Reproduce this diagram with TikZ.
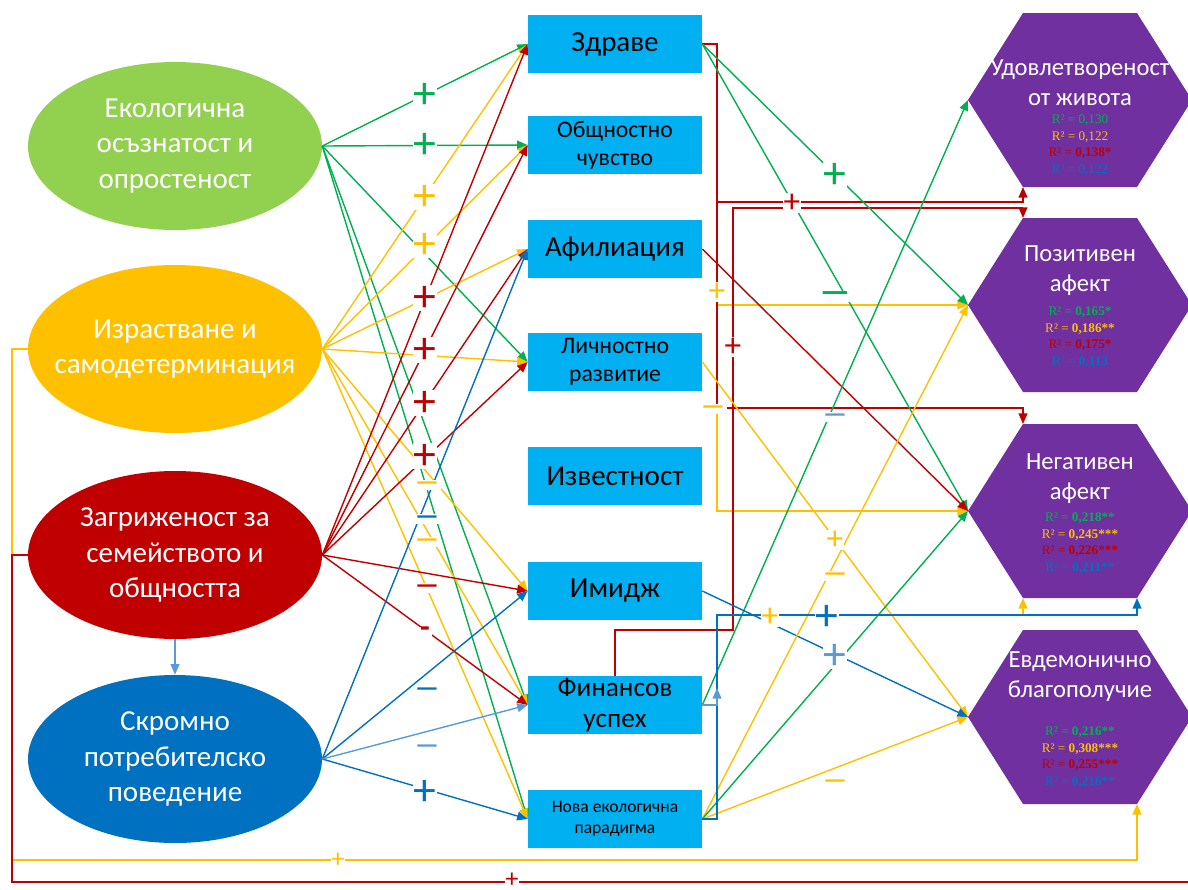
\documentclass[tikz,border=0pt]{standalone}
\usepackage{fontspec}
\setmainfont{Carlito}
\newfontfamily\rfont{Liberation Serif}
\usetikzlibrary{shapes.geometric,arrows.meta}
\definecolor{cgreen}{HTML}{00B050}
\definecolor{lgreen}{HTML}{92D050}
\definecolor{cyel}{HTML}{FFC000}
\definecolor{cred}{HTML}{C00000}
\definecolor{cblue}{HTML}{0070C0}
\definecolor{lblue}{HTML}{5B9BD5}
\definecolor{ccyan}{HTML}{00B0F0}
\definecolor{cpurp}{HTML}{7030A0}
\begin{document}
\begin{tikzpicture}[x=0.02cm,y=-0.02cm,
 ell/.style={ellipse, minimum width=5.88cm, minimum height=3.36cm, inner xsep=-12pt, inner ysep=0pt, align=center, text=white, font=\fontsize{16.5}{20}\selectfont},
 box/.style={rectangle, fill=ccyan, minimum width=3.48cm, minimum height=1.16cm, inner sep=0pt, align=center, font=\fontsize{16.5}{19}\selectfont},
 boxs/.style={box, font=\fontsize{13.5}{16}\selectfont},
 hextitle/.style={align=center, text=white, inner sep=0pt, font=\fontsize{14}{17}\selectfont},
 rsq/.style={align=center, inner sep=0pt, font=\rfont\fontsize{7.5}{9.4}\selectfont},
 con/.style={line width=0.8pt, -{Triangle[length=6pt,width=5pt]}},
 lnk/.style={line width=0.8pt},
 labp/.style={fill=white, inner xsep=0.5pt, inner ysep=0pt, text height=15pt, text depth=0pt, font=\fontsize{26}{26}\selectfont},
 labps/.style={fill=white, inner xsep=0.5pt, inner ysep=0pt, text height=11pt, text depth=0pt, font=\fontsize{19}{19}\selectfont},
 labd/.style={fill=white, inner xsep=1pt, inner ysep=0pt, text height=6pt, text depth=0pt, font=\bfseries\fontsize{15}{15}\selectfont},
 labb/.style={fill=white, inner xsep=0.5pt, inner ysep=0pt, text height=8pt, text depth=0pt, font=\fontsize{15}{15}\selectfont},
 ]
\useasboundingbox (0,0) rectangle (1188,890);

% ---- ellipses
\node[ell, fill=lgreen] (e1) at (175,146) {Екологична\\осъзнатост и\\опростеност};
\node[ell, fill=cyel] (e2) at (175,349) {Израстване и\\самодетерминация};
\node[ell, fill=cred] (e3) at (175,555) {Загриженост за\\семейството и\\общността};
\node[ell, fill=cblue] (e4) at (175,759) {Скромно\\потребителско\\поведение};

% ---- boxes
\node[box] (b1) at (615,44) {Здраве};
\node[boxs] (b2) at (615,145) {Общностно\\чувство};
\node[box] (b3) at (615,249) {Афилиация};
\node[boxs] (b4) at (615,362) {Личностно\\развитие};
\node[box] (b5) at (615,476) {Известност};
\node[box] (b6) at (615,591) {Имидж};
\node[box, font=\fontsize{15.5}{18}\selectfont] (b7) at (615,705) {Финансов\\успех};
\node[box, font=\fontsize{10}{12}\selectfont] (b8) at (615,819) {Нова екологична\\парадигма};

% ---- hexagons
\foreach \n/\cy in {1/100,2/305,3/511,4/717}{
  \fill[cpurp] (968,\cy) -- (1023,\cy-87) -- (1137,\cy-87) -- (1192,\cy) -- (1137,\cy+87) -- (1023,\cy+87) -- cycle;
  \coordinate (h\n w) at (968,\cy);
  \coordinate (h\n tl) at (1023,\cy-87);
  \coordinate (h\n bl) at (1023,\cy+87);
  \coordinate (h\n br) at (1137,\cy+87);
}
\node[hextitle] (t1) at (1080,83) {Удовлетвореност\\от живота};
\node[rsq] (r1) at (1080,145) {\textcolor{cgreen}{R² = 0,130}\\\textcolor{cyel}{R² = 0,122}\\\textcolor{cred}{R² = \textbf{0,138*}}\\\textcolor{cblue}{R² = 0,122}};
\node[hextitle] (t2) at (1080,271) {Позитивен\\афект};
\node[rsq] (r2) at (1080,337) {\textcolor{cgreen}{R² = \textbf{0,165*}}\\\textcolor{cyel}{R² = \textbf{0,186**}}\\\textcolor{cred}{R² = \textbf{0,175*}}\\\textcolor{cblue}{R² = \textbf{0,113}}};
\node[hextitle] (t3) at (1080,479) {Негативен\\афект};
\node[rsq] (r3) at (1080,543) {\textcolor{cgreen}{R² = \textbf{0,218**}}\\\textcolor{cyel}{R² = \textbf{0,245***}}\\\textcolor{cred}{R² = \textbf{0,226***}}\\\textcolor{cblue}{R² = \textbf{0,211**}}};
\node[hextitle] (t4) at (1080,677) {Евдемонично\\благополучие};
\node[rsq] (r4) at (1080,757) {\textcolor{cgreen}{R² = \textbf{0,216**}}\\\textcolor{cyel}{R² = \textbf{0,308***}}\\\textcolor{cred}{R² = \textbf{0,255***}}\\\textcolor{cblue}{R² = \textbf{0,218**}}};

% ---- left connectors
\foreach \b in {b1,b2,b4,b7,b8} \draw[con,cgreen] (e1.east) -- (\b.west);
\foreach \b in {b1,b2,b3,b4,b6,b7,b8} \draw[con,cyel] (e2.east) -- (\b.west);
\foreach \b in {b1,b2,b3,b4,b6,b7} \draw[con,cred] (e3.east) -- (\b.west);
\foreach \b in {b3,b6,b8} \draw[con,cblue] (e4.east) -- (\b.west);
\draw[con,lblue] (e4.east) -- (b7.west);
\draw[con,lblue] (e3.south) -- (e4.north);

% ---- bottom connectors
\draw[con,cyel] (e2.west) -| (12,860) -| (h4br);
\draw[lnk,cred] (e3.west) -| (12,882) -- (1188,882);

% ---- right connectors
\draw[con,cyel] (b1.east) -- (717,44) -- (717,305) -- (h2w);
\draw[con,cyel] (717,305) -- (717,511) -- (h3w);
\draw[con,cred] (b1.east) -- (717,44) -- (717,202) -| (h1bl);
\draw[con,cred] (717,202) -- (717,408) -| (h3tl);
\draw[con,cred] (b7.north) |- (733,630) -- (733,208) -| (h2tl);
\draw[con,cgreen] (b1.east) -- (h2w);
\draw[con,cgreen] (b1.east) -- (h3w);
\draw[con,cred] (b3.east) -- (h3w);
\draw[con,cyel] (b4.east) -- (h4w);
\draw[con,cgreen] (b7.east) -- (h1w);
\draw[con,cblue] (b6.east) -- (h4w);
\draw[con,cyel] (b8.east) -- (h2w);
\draw[con,cgreen] (b8.east) -- (h3w);
\draw[con,cyel] (b8.east) -- (h4w);
\draw[con,cyel] (b8.east) -- (717,819) -- (717,615) -| (h3bl);
\draw[con,cblue] (b8.east) -- (717,819) -- (717,615) -| (h3br);
\draw[con,lblue] (b7.east) -- (717,705) -- (717,688);

% ---- left labels
\node[labp,text=cgreen] (l1) at (425,95) {+};
\node[labp,text=cgreen] (l2) at (425,145) {+};
\node[labp,text=cyel] (l3) at (425,197) {+};
\node[labp,text=cyel] (l4) at (425,245) {+};
\node[labp,text=cred] (l5) at (425,298) {+};
\node[labp,text=cred] (l6) at (425,350) {+};
\node[labp,text=cred] (l7) at (425,403) {+};
\node[labp,text=cred] (l8) at (425,456) {+};
\node[labd,text=cyel] (l9) at (427,485) {—};
\node[labd,text=cblue] (l10) at (427,519) {—};
\node[labd,text=cyel] (l11) at (427,542) {—};
\node[labd,text=cred] (l12) at (427,588) {—};
\node[labd,text=cred,font=\bfseries\fontsize{18}{18}\selectfont] (l13) at (425,632) {-};
\node[labd,text=cblue] (l14) at (427,691) {—};
\node[labd,text=lblue] (l15) at (427,748) {—};
\node[labp,text=cblue] (l16) at (425,792) {+};

% ---- right labels
\node[labp,text=cgreen] (r1l) at (835,175) {+};
\node[labps,text=cred] (r2l) at (792,203) {+};
\node[labd,text=cgreen,font=\bfseries\fontsize{19}{19}\selectfont] (r3l) at (835,297) {—};
\node[labps,text=cyel] (r4l) at (717,292) {+};
\node[labps,text=cred] (r5l) at (733,347) {+};
\node[labd,text=cyel] (r6l) at (713,409) {—};
\node[labd,text=lblue] (r7l) at (835,417) {—};
\node[labps,text=cyel] (r8l) at (835,540) {+};
\node[labd,text=cyel] (r9l) at (835,576) {—};
\node[labps,text=cyel] (r10l) at (770,617) {+};
\node[labp,text=cblue] (r11l) at (827,617) {+};
\node[labp,text=lblue] (r12l) at (835,656) {+};
\node[labd,text=cyel] (r13l) at (835,783) {—};

% ---- bottom labels
\node[labb,text=cyel] (bl1) at (338,860) {+};
\node[labb,text=cred] (bl2) at (512,880) {+};
\end{tikzpicture}
\end{document}
